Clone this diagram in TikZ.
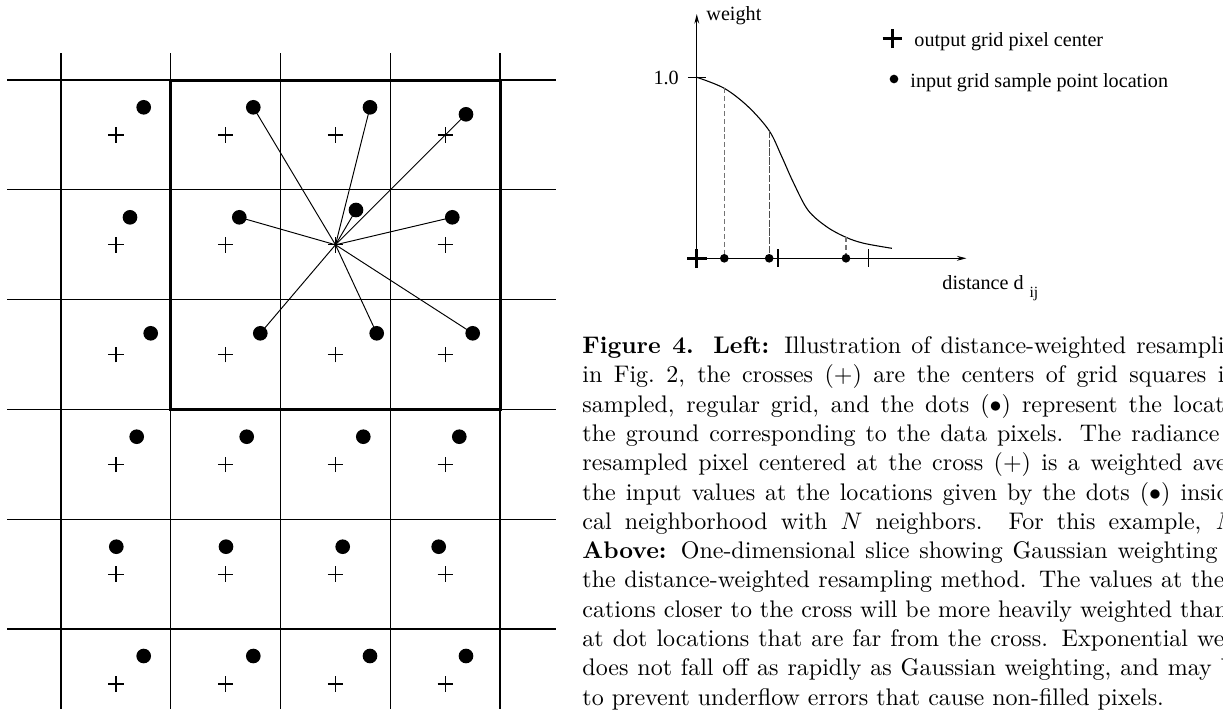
\documentclass[tikz,border=0pt]{standalone}
\usepackage{amsmath,amssymb}
\usepackage{fontspec}
\newfontfamily\timesfont{Liberation Serif}
\usetikzlibrary{arrows.meta,shapes.misc}
\newcommand\capline[2]{\makebox[#1][s]{#2}}

\begin{document}
\begin{tikzpicture}[
  x=0.41667pt, y=-0.41667pt, >={Stealth[length=4pt,width=2pt]},
  grd/.style={line width=0.45pt},
  ctr/.style={draw, cross out, rotate=45, minimum size=4.1pt, inner sep=0pt, line width=0.45pt},
  bplus/.style={draw, cross out, rotate=45, minimum size=4.5pt, inner sep=0pt, line width=1.25pt},
  dot/.style={circle, fill, inner sep=0pt, minimum size=6.1pt},
  sdot/.style={circle, fill, inner sep=0pt, minimum size=3.6pt},
  spoke/.style={line width=0.4pt},
  drop/.style={black!55, line width=0.5pt, dash pattern=on 2pt off 1.2pt},
  tlab/.style={font=\timesfont\fontsize{8.4}{10}\selectfont, inner sep=0pt}]
\useasboundingbox (0,0) rectangle (1223,709);
\clip (0,0) rectangle (1223,709);
\foreach \x in {61,170.75,280.5,390.25,500} \draw[grd] (\x,53) -- (\x,709);
\foreach \y in {80,189.8,299.6,409.4,519.2,629} \draw[grd] (7,\y) -- (556,\y);
\draw[line width=1.25pt] (170.75,80) rectangle (500,409.4);
\foreach \r in {1,...,6}
  \foreach \c in {1,...,4}
    \node[ctr] (c\r\c) at ({116+109.75*(\c-1)},{135+109.8*(\r-1)}) {};
\foreach \n/\px/\py in {11/143.7/107.3, 12/253.3/107.3, 13/370/107.3, 14/466/114.3,
    21/130/217.3, 22/239.3/217.3, 23/356/210, 24/452.3/217.3,
    31/150.7/333.3, 32/260.3/333.3, 33/376.7/333.3, 34/472.7/333.3,
    41/136.7/436.7, 42/246.7/436.7, 43/363.3/436.7, 44/459.3/436.7,
    51/116.3/546.7, 52/226/546.7, 53/342.7/546.7, 54/438.7/546.7,
    61/143.7/656, 62/253.3/656, 63/370/656, 64/466/656}
  \node[dot] (d\n) at (\px,\py) {};
\foreach \n in {12,13,14,22,23,24,32,33,34} \draw[spoke] (c23.center) -- (d\n.center);

\coordinate (o) at (696.8,258.3);
\coordinate (ytip) at (696.8,14);
\coordinate (xtip) at (966.5,258.3);
\draw[->, line width=0.5pt] (o) -- (ytip);
\draw[->, line width=0.5pt] (o) -- (xtip);
\node[bplus] (org) at (o) {};
\node[tlab, anchor=base west] (wt) at (706,20.7) {weight};
\node[tlab, anchor=base east] (one) at (679.2,84) {1.0};
\draw[line width=0.5pt] (687.8,77.3) -- (706.4,77.3);
\draw[line width=0.45pt] plot[smooth, tension=0.55] coordinates {(696.8,77.3) (724.3,88.3) (748.2,106.7) (769.2,130.7) (781.8,156.7) (793,181.7) (807.9,210) (826.6,226.7) (846,237.3) (863.9,243.3) (891.9,248.3)};
\foreach \i/\x/\y in {1/724.3/88.3, 2/769.2/130.7, 3/846/237.3} {
  \coordinate (k\i) at (\x,\y);
  \node[sdot] (s\i) at (\x,258.3) {};
}
\draw[drop] (k1) -- (s1);
\draw[drop, black!70, dash pattern=on 3pt off 0.7pt] (k2) -- (s2);
\draw[drop] (k3) -- (s3);
\foreach \x in {778,868.3} \draw[line width=0.5pt] (\x,249.3) -- (\x,267.3);
\node[tlab, anchor=base west] (dist) at (942,289.3) {distance d\hspace{2.5pt}\raisebox{-3.5pt}{\fontsize{6.5}{7}\selectfont ij}};
\node[bplus] (lgp) at (892.5,38.3) {};
\node[tlab, anchor=base west] (lgptxt) at (914,46) {output grid pixel center};
\node[sdot] (lgd) at (894,79) {};
\node[tlab, anchor=base west] (lgdtxt) at (910,87.3) {input grid sample point location};

\node[anchor=base west, inner sep=0pt, align=left, font=\fontsize{10}{12.2}\selectfont] (cap) at (582,705) {%
\capline{267.5pt}{\textbf{Figure 4. Left:} Illustration of distance-weighted resampli}\\
\capline{267.5pt}{in Fig.~2, the crosses ($+$) are the centers of grid squares i}\\
\capline{267.5pt}{sampled, regular grid, and the dots ($\bullet$) represent the locat}\\
\capline{265.4pt}{the ground corresponding to the data pixels. The radiance}\\
\capline{268.5pt}{resampled pixel centered at the cross ($+$) is a weighted ave}\\
\capline{269.8pt}{the input values at the locations given by the dots ($\bullet$) insid}\\
\capline{273pt}{cal neighborhood with $N$ neighbors. For this example, $N$}\\
\capline{264.6pt}{\textbf{Above:} One-dimensional slice showing Gaussian weighting}\\
\capline{267.5pt}{the distance-weighted resampling method. The values at the}\\
\capline{269pt}{cations closer to the cross will be more heavily weighted than}\\
\capline{267.5pt}{at dot locations that are far from the cross. Exponential we}\\
\capline{271.5pt}{does not fall off as rapidly as Gaussian weighting, and may b}\\
to prevent underflow errors that cause non-filled pixels.};
\end{tikzpicture}
\end{document}
